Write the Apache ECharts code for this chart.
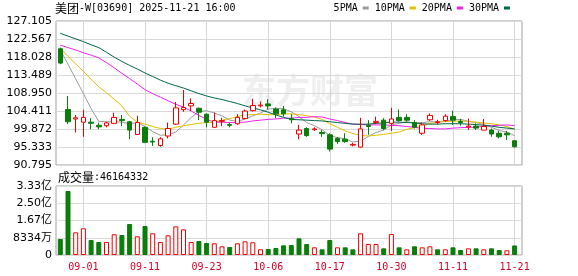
<!DOCTYPE html>
<html>
<head>
<meta charset="utf-8">
<script src="https://cdn.jsdelivr.net/npm/echarts@6/dist/echarts.min.js"></script>
<style>html,body{margin:0;padding:0;background:#fff;}#c{width:578px;height:276px;}</style>
</head>
<body>
<div id="c"></div>
<script>
const dates = ['08-27','08-28','08-29','09-01','09-02','09-03','09-04','09-05','09-08','09-09','09-10','09-11','09-12','09-15','09-16','09-17','09-18','09-19','09-22','09-23','09-24','09-25','09-26','09-29','09-30','10-02','10-03','10-06','10-08','10-09','10-10','10-13','10-14','10-15','10-16','10-17','10-20','10-21','10-22','10-23','10-24','10-27','10-28','10-30','10-31','11-03','11-04','11-05','11-06','11-07','11-10','11-11','11-12','11-13','11-14','11-17','11-18','11-19','11-20','11-21'];
const openP  = [120.1,104.8,102.4,101.6,101.6,100.8,100.7,101.3,102.3,101.7,98.5,100.3,96.8,95.7,98.1,101.1,104.8,105.7,105.1,103.6,100.3,101.8,101.0,101.2,102.5,104.5,105.7,106.2,104.9,104.7,102.5,98.6,100.0,99.7,99.0,98.4,97.5,97.3,95.8,95.3,100.8,101.5,102.1,101.3,102.8,102.8,101.5,98.8,102.2,101.5,102.0,103.0,101.8,100.4,100.6,99.6,99.6,98.8,98.8,96.9];
const closeP = [116.5,101.7,102.7,102.8,101.3,100.4,101.4,102.8,102.0,99.6,101.5,96.5,96.6,97.4,100.0,105.2,105.3,106.3,104.1,101.6,102.0,102.0,100.8,102.8,104.4,105.8,105.9,105.7,103.7,103.7,102.2,99.6,98.2,99.9,98.7,94.8,96.7,96.7,96.0,99.9,100.5,101.8,100.0,102.4,102.0,102.1,100.3,100.9,103.3,101.7,103.1,102.1,101.5,100.6,100.1,100.5,98.6,97.9,98.4,95.4];
const lowP   = [116.2,101.1,99.0,97.9,99.8,99.8,100.3,101.1,100.6,97.3,98.5,96.3,95.6,95.4,97.5,100.9,104.2,104.4,102.1,100.3,100.3,100.6,100.3,100.9,102.3,104.3,105.3,104.8,102.6,103.0,101.3,97.3,97.9,99.4,97.9,94.2,96.1,96.4,95.5,95.2,98.4,101.1,99.6,99.4,101.7,101.7,100.0,98.4,101.9,101.0,101.7,100.9,100.7,99.6,99.6,99.6,97.9,97.5,97.1,95.2];
const highP  = [120.4,108.2,103.4,104.7,102.6,101.5,101.7,104.0,103.4,101.9,103.2,100.5,97.8,97.8,101.5,106.7,109.7,107.6,105.3,103.8,104.0,102.7,101.5,103.6,104.8,107.5,106.8,107.4,105.3,105.7,103.6,100.9,100.3,100.3,99.6,98.8,97.9,98.8,96.4,102.7,102.1,103.0,102.6,105.2,104.8,103.6,102.1,101.5,103.8,102.2,103.6,104.5,102.4,102.5,101.3,102.4,100.0,99.4,99.4,97.1];
const ma5  = [119.8,116.2,112.5,108.8,105.0,101.8,101.7,101.7,101.6,101.2,101.5,100.5,99.2,98.3,98.4,99.1,100.9,102.8,104.2,104.5,103.9,103.2,102.1,101.8,102.4,103.2,103.9,104.9,105.1,105.0,104.2,103.0,101.5,100.7,99.7,98.2,97.7,97.4,96.6,96.8,98.0,99.0,99.6,100.9,101.3,101.7,101.4,101.5,101.7,101.7,101.9,102.2,102.3,101.8,101.5,101.0,100.3,99.5,99.1,98.2];
const ma10 = [120.2,118.2,116.3,114.4,112.4,110.5,109.0,107.4,105.7,103.1,101.6,101.1,100.5,100.0,99.8,100.3,100.7,101.0,101.3,101.5,101.5,102.1,102.5,103.0,103.5,103.5,103.6,103.5,103.5,103.7,103.7,103.5,103.2,102.9,102.3,101.2,100.3,99.4,98.7,98.3,98.1,98.3,98.5,98.8,99.1,99.8,100.2,100.6,101.3,101.5,101.8,101.8,101.9,101.8,101.6,101.4,101.2,100.9,100.5,99.8];
const ma20 = [121.0,120.4,119.8,119.1,118.5,117.8,116.6,115.3,113.9,112.6,111.2,109.8,108.8,107.9,107.0,106.1,105.4,104.4,103.3,102.3,101.6,101.6,101.5,101.5,101.6,101.9,102.1,102.3,102.4,102.6,102.6,102.8,102.8,103.0,102.9,102.4,102.0,101.5,101.1,101.0,100.9,100.9,100.9,100.8,100.7,100.5,100.3,100.0,100.0,99.9,99.9,100.1,100.2,100.3,100.3,100.6,100.7,100.8,100.9,100.7];
const ma30 = [124.0,123.3,122.6,121.9,121.1,120.4,119.2,118.0,116.9,115.9,115.0,114.0,113.1,112.2,111.4,110.8,110.2,109.5,108.8,108.2,107.7,107.3,106.8,106.3,105.7,105.2,104.7,104.1,103.4,102.8,102.3,102.2,102.1,102.0,101.9,101.7,101.5,101.3,101.1,101.1,101.1,101.3,101.4,101.6,101.6,101.5,101.4,101.2,101.1,101.1,101.2,101.2,101.2,101.1,101.0,100.8,100.6,100.3,100.1,99.9];
const volumes = [77300000,309200000,109600000,129000000,72500000,62800000,62800000,100000000,96600000,149800000,90300000,140100000,104800000,62800000,95000000,138500000,124000000,62800000,67600000,58000000,56400000,42000000,38600000,56400000,66000000,61300000,27500000,29000000,33800000,46800000,48300000,80500000,53100000,37000000,27400000,72500000,37000000,37000000,27400000,104800000,53100000,53100000,32200000,101500000,37000000,27400000,42000000,37000000,42000000,27400000,27400000,37000000,24200000,32200000,32200000,27400000,32200000,24200000,22700000,46164332];
const volUp = [0,0,1,1,0,0,1,1,0,0,1,0,1,1,1,1,1,1,0,0,1,1,0,1,1,1,1,0,0,0,0,0,0,1,0,0,1,0,0,1,1,1,0,1,0,1,0,1,1,0,1,0,0,1,0,1,0,0,1,0];
const priceTickLabels = ['90.795','95.333','99.872','104.411','108.950','113.489','118.028','122.567','127.105'];
const priceMin = 90.795, priceMax = 127.105;
const volTickLabels = ['0','8334万','1.67亿','2.50亿','3.33亿'];
const volMax = 333360000;
const labelDates = ['09-01','09-11','09-23','10-06','10-17','10-30','11-11','11-21'];

const RED = '#ee0000', GREEN = '#0a7d0a';
const MONO = '"DejaVu Sans Mono", monospace';
const CJK = '"Noto Sans CJK SC"';
const AXF = '"DejaVu Sans", "Noto Sans CJK SC", sans-serif';

// layout
const DATA_LEFT = 56.45, DATA_W = 462;
const PRICE_TOP = 21, PRICE_H = 144, VOL_TOP = 186, VOL_H = 69;
const slotW = DATA_W / dates.length;
const firstLab = dates.indexOf(labelDates[0]);
const lastLab = dates.indexOf(labelDates[labelDates.length - 1]);
const VL_LEFT = DATA_LEFT + (firstLab + 0.5) * slotW;
const VL_W = (lastLab - firstLab) * slotW;

const candleData = dates.map((d, i) => [openP[i], closeP[i], lowP[i], highP[i]]);
const volData = volumes.map((v, i) => ({
  value: v,
  itemStyle: volUp[i] ? {color: '#fff', borderColor: RED, borderWidth: 1} : {color: GREEN, borderColor: GREEN, borderWidth: 1}
}));
const isLabelDate = (i) => labelDates.includes(dates[i]);

const chart = echarts.init(document.getElementById('c'));
const maLine = (name, data, color) => ({
  name, type: 'line', data, xAxisIndex: 0, yAxisIndex: 0, symbol: 'none', smooth: false,
  lineStyle: {width: 1, color}, itemStyle: {color}, z: 3, silent: true
});
const titleRich = {
  c: {fontFamily: CJK, fontSize: 12, fontWeight: 'normal', color: '#000', lineHeight: 14},
  e: {fontFamily: MONO, fontSize: 10, fontWeight: 'normal', color: '#000', lineHeight: 14}
};
const vGridAxis = (gi) => ({
  type: 'value', gridIndex: gi, min: 0, max: labelDates.length - 1, interval: 1,
  axisLine: {show: false}, axisTick: {show: false}, axisLabel: {show: false},
  splitLine: {show: true, lineStyle: {type: 'solid', color: '#d6d6d6', width: 1}}
});
const hiddenY = (gi) => ({type: 'value', gridIndex: gi, min: 0, max: 1, axisLine: {show: false}, axisTick: {show: false}, axisLabel: {show: false}, splitLine: {show: false}});

chart.setOption({
  animation: false,
  backgroundColor: '#fff',
  title: [
    {left: 55, top: 1, padding: 0, text: '{c|美团}{e|-W[03690] 2025-11-21 16:00}',
     textStyle: {fontWeight: 'normal', rich: titleRich}},
    {left: 58, top: 170, padding: 0, text: '{c|成交量}{e|:' + volumes[volumes.length - 1] + '}',
     textStyle: {fontWeight: 'normal', rich: titleRich}}
  ],
  legend: {
    right: 68, top: 3, padding: 0, itemWidth: 6, itemHeight: 3, itemGap: 6, align: 'right', icon: 'rect',
    selectedMode: false, data: ['5PMA', '10PMA', '20PMA', '30PMA'],
    formatter: name => '{a|' + name + '}',
    textStyle: {fontFamily: MONO, fontSize: 10, color: '#000',
      rich: {a: {fontFamily: MONO, fontSize: 10, color: '#000', fontWeight: 'normal'}}}
  },
  graphic: [
    {type: 'text', left: 242, top: 73, z: 0, silent: true,
     style: {text: '东方财富', font: 'bold 34px "Noto Sans CJK SC"', fill: '#efefef'}}
  ],
  grid: [
    {left: DATA_LEFT, top: PRICE_TOP, width: DATA_W, height: PRICE_H},
    {left: DATA_LEFT, top: VOL_TOP, width: DATA_W, height: VOL_H},
    {left: 56, top: PRICE_TOP, width: 466, height: PRICE_H, show: true, borderColor: '#a0a0a0', borderWidth: 1},
    {left: 56, top: VOL_TOP, width: 466, height: VOL_H, show: true, borderColor: '#a0a0a0', borderWidth: 1},
    {left: VL_LEFT, top: PRICE_TOP, width: VL_W, height: PRICE_H},
    {left: VL_LEFT, top: VOL_TOP, width: VL_W, height: VOL_H}
  ],
  xAxis: [
    {type: 'category', gridIndex: 0, data: dates, boundaryGap: true, axisLine: {show: false},
     axisTick: {show: false}, axisLabel: {show: false}, splitLine: {show: false}},
    {type: 'category', gridIndex: 1, data: dates, boundaryGap: true, axisLine: {show: false},
     axisTick: {show: false}, splitLine: {show: false},
     axisLabel: {show: true, interval: isLabelDate, color: '#d4002a', fontFamily: MONO, fontSize: 10, margin: 7, hideOverlap: false}},
    {type: 'value', gridIndex: 2, min: 0, max: 1, show: false},
    {type: 'value', gridIndex: 3, min: 0, max: 1, show: false},
    vGridAxis(4),
    vGridAxis(5)
  ],
  yAxis: [
    {type: 'value', gridIndex: 0, min: priceMin, max: priceMax, axisLine: {show: false}, axisTick: {show: false}, axisLabel: {show: false}, splitLine: {show: false}},
    {type: 'value', gridIndex: 1, min: 0, max: volMax, axisLine: {show: false}, axisTick: {show: false}, axisLabel: {show: false}, splitLine: {show: false}},
    {type: 'value', gridIndex: 2, min: 0, max: priceTickLabels.length - 1, interval: 1,
     axisLine: {show: false}, axisTick: {show: false},
     axisLabel: {formatter: v => priceTickLabels[v], color: '#000', fontFamily: AXF, fontSize: 11, margin: 4},
     splitLine: {show: true, lineStyle: {color: '#d9d9d9', width: 1}}},
    {type: 'value', gridIndex: 3, min: 0, max: volTickLabels.length - 1, interval: 1,
     axisLine: {show: false}, axisTick: {show: false},
     axisLabel: {formatter: v => volTickLabels[v], color: '#000', fontFamily: AXF, fontSize: 11, margin: 4},
     splitLine: {show: true, lineStyle: {color: '#d9d9d9', width: 1}}},
    hiddenY(4),
    hiddenY(5)
  ],
  series: [
    {name: 'K', type: 'candlestick', xAxisIndex: 0, yAxisIndex: 0, data: candleData, barWidth: 5, z: 4,
     itemStyle: {color: '#fff', color0: GREEN, borderColor: RED, borderColor0: GREEN, borderWidth: 1}, silent: true},
    maLine('5PMA', ma5, '#9a9a9a'),
    maLine('10PMA', ma10, '#e0c000'),
    maLine('20PMA', ma20, '#f020f0'),
    maLine('30PMA', ma30, '#00664a'),
    {name: 'VOL', type: 'bar', xAxisIndex: 1, yAxisIndex: 1, data: volData, barWidth: 5, silent: true}
  ]
});
</script>
</body>
</html>
